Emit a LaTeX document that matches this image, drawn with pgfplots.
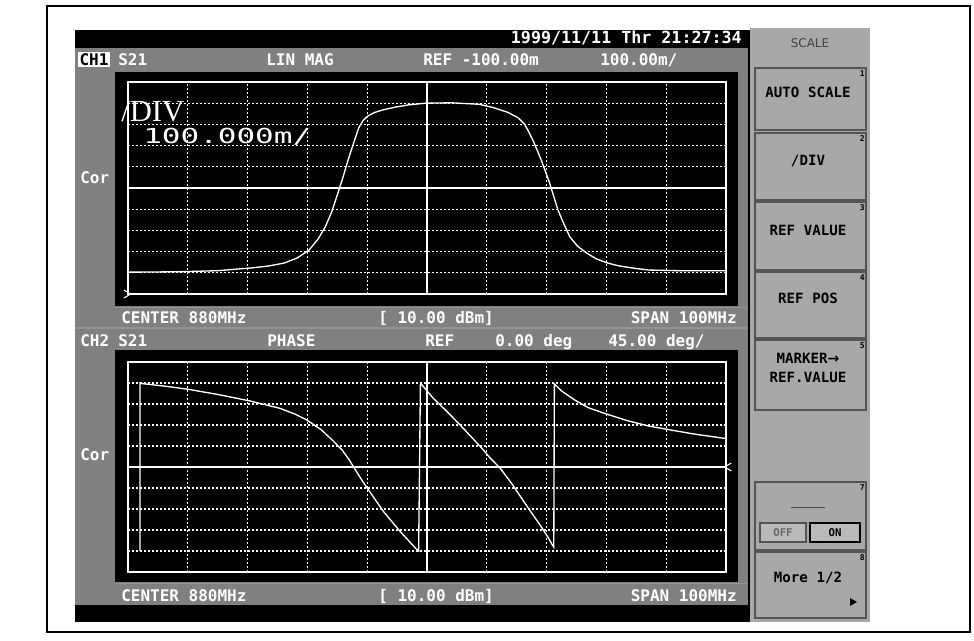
\documentclass[border=0pt]{standalone}
\usepackage{pgfplots}
\pgfplotsset{compat=1.18}
\usepackage{graphicx}
\usepackage{fontspec}
\setmainfont{Liberation Serif}
\newfontfamily\mono{DejaVu Sans Mono}
\newfontfamily\sanss{DejaVu Sans}
\definecolor{bezel}{gray}{0.50}
\definecolor{panel}{gray}{0.66}
\definecolor{btnline}{gray}{0.33}
\begin{document}
\begin{tikzpicture}
\begin{scope}[x=0.75pt,y=-0.75pt]
\path[use as bounding box] (0,0) rectangle (974,640);
\fill[white] (0,0) rectangle (974,640);
\draw[line width=0.9pt] (47,6) rectangle (970,632);
% screen bezel
\fill[bezel] (75,30) rectangle (750,622);
\fill[black] (75,30) rectangle (750,48);
\fill[black] (75,605) rectangle (750,622);
\fill[black] (115,72) rectangle (738,306);
\fill[black] (115,350) rectangle (738,582);
\draw[gray!85!white, line width=0.8pt] (115,307.5) -- (750,307.5);
\draw[gray!85!white, line width=0.8pt] (75,328) -- (750,328);
\draw[gray!85!white, line width=0.8pt] (115,583.5) -- (750,583.5);
\draw[black, line width=0.8pt] (749,30) -- (749,622);
% softkey panel
\fill[panel] (750,28) rectangle (870,622);
\foreach \a/\b in {68/130,133/200,202/270,272/338,340/410,482/550,552/618}{
  \draw[btnline, line width=0.8pt] (755,\a) rectangle (866,\b);
}
\coordinate (A) at (128,294);
\coordinate (B) at (128,572);
\tikzset{hdr/.style={font=\mono\bfseries\fontsize{12}{12}\selectfont, text=white, inner sep=0pt},
         key/.style={font=\mono\bfseries\fontsize{10.6}{10.6}\selectfont, text=black, inner sep=0pt},
         num/.style={font=\mono\bfseries\fontsize{6}{6}\selectfont, text=black, inner sep=0pt, anchor=base east}}
% top bar
\node[hdr, anchor=base east, font=\mono\bfseries\fontsize{12.5}{12.5}\selectfont] at (742,43) {1999/11/11 Thr 21:27:34};
% channel 1 header
\node[hdr, anchor=base west, fill=white, text=black, inner sep=1pt] at (78,65) {CH1};
\node[hdr, anchor=base west] at (118,65) {S21};
\node[hdr, anchor=base west] at (266,65) {LIN MAG};
\node[hdr, anchor=base west] at (423,65) {REF -100.00m};
\node[hdr, anchor=base west] at (600,65) {100.00m/};
\node[hdr, anchor=base west] at (80,183) {Cor};
% row under upper plot
\node[hdr, anchor=base west] at (121,323) {CENTER 880MHz};
\node[hdr, anchor=base west] at (378,323) {[ 10.00 dBm]};
\node[hdr, anchor=base east] at (737,323) {SPAN 100MHz};
% channel 2 header
\node[hdr, anchor=base west] at (80,346) {CH2};
\node[hdr, anchor=base west] at (118,346) {S21};
\node[hdr, anchor=base west] at (267,346) {PHASE};
\node[hdr, anchor=base west] at (425,346) {REF};
\node[hdr, anchor=base west] at (495,346) {0.00 deg};
\node[hdr, anchor=base west] at (608,346) {45.00 deg/};
\node[hdr, anchor=base west] at (80,460) {Cor};
% bottom row
\node[hdr, anchor=base west] at (121,601) {CENTER 880MHz};
\node[hdr, anchor=base west] at (378,601) {[ 10.00 dBm]};
\node[hdr, anchor=base east] at (737,601) {SPAN 100MHz};
% softkeys
\node[font=\sanss\fontsize{9}{9}\selectfont, text=black!75, anchor=base] at (810,47) {SCALE};
\node[key, anchor=base] at (808,97) {AUTO SCALE};
\node[key, anchor=base] at (808,165) {/DIV};
\node[key, anchor=base] at (808,235) {REF VALUE};
\node[key, anchor=base] at (808,303) {REF POS};
\node[key, anchor=base] at (808,363) {MARKER{\sanss\bfseries →}};
\node[key, anchor=base] at (808,382) {REF.VALUE};
\node[font=\mono\fontsize{7}{7}\selectfont, text=black!70, anchor=base] at (808,505) {\underline{\ \ \ \ \ \ }};
\draw[btnline, line width=0.8pt, fill=panel!80!white] (760,523) rectangle (806,542);
\draw[black, line width=1pt, fill=gray!55] (810,523) rectangle (860,542);
\node[key, font=\mono\bfseries\fontsize{8}{8}\selectfont] at (835,533) {ON};
\node[key, font=\mono\bfseries\fontsize{8}{8}\selectfont, text=black!60] at (783,533) {OFF};
\node[key, anchor=base] at (808,582) {More 1/2};
\fill[black] (850,598) -- (857,602) -- (850,606) -- cycle;
\node[num] at (865,76) {1};
\node[num] at (865,141) {2};
\node[num] at (865,210) {3};
\node[num] at (865,280) {4};
\node[num] at (865,348) {5};
\node[num] at (865,490) {7};
\node[num] at (865,560) {8};
\end{scope}

% ---------- upper plot: S21 LIN MAG ----------
\begin{axis}[
  at={(A)}, anchor=south west, scale only axis,
  width=448.5pt, height=159pt,
  xmin=830, xmax=930, ymin=-0.1, ymax=0.9,
  axis background/.style={fill=black},
  axis line style={white, line width=1pt},
  xtick={840,850,860,870,890,900,910,920},
  ytick={0,0.1,0.2,0.3,0.5,0.6,0.7,0.8},
  extra x ticks={880}, extra y ticks={0.4},
  extra tick style={major grid style={white, solid, line width=1pt}},
  xticklabels={}, yticklabels={},
  extra x tick labels={}, extra y tick labels={},
  major tick length=0pt,
  grid=major,
  major grid style={white, line width=0.9pt, dash pattern=on 1.5pt off 1.5pt},
  clip=false,
]
\addplot[white, line width=1pt] coordinates {
(830.0,0.003) (835,0.004) (840,0.006) (845,0.010) (850.6,0.023) (853.5,0.032)
(856.1,0.046) (858.3,0.070) (860.3,0.108) (861.8,0.160) (863.0,0.217) (864.1,0.290)
(865.1,0.376) (866.0,0.455) (866.8,0.532) (867.7,0.610) (868.6,0.685) (869.3,0.718)
(870.0,0.738) (871.2,0.756) (872.7,0.769) (874.8,0.782) (876.9,0.792) (879.7,0.800)
(884,0.802) (888.7,0.795) (891.0,0.780) (893.5,0.757) (895.2,0.732) (896.3,0.702)
(897.0,0.666) (897.7,0.626) (898.4,0.580) (899.1,0.532) (899.8,0.478) (900.5,0.424)
(901.2,0.360) (901.9,0.296) (902.9,0.230) (903.9,0.169) (905.2,0.125) (906.7,0.093)
(908.3,0.066) (910.2,0.046) (912.2,0.032) (914.3,0.023) (917.1,0.013) (922,0.010) (930,0.010)
};
\draw[white, line width=0.8pt] (axis cs:830,-0.1) ++(-3pt,3pt) -- ++(5pt,-3pt) -- ++(-5pt,-3pt);
\end{axis}

% ---------- lower plot: S21 PHASE ----------
\begin{axis}[
  at={(B)}, anchor=south west, scale only axis,
  width=448.5pt, height=157.5pt,
  xmin=830, xmax=930, ymin=-225, ymax=225,
  axis background/.style={fill=black},
  axis line style={white, line width=1pt},
  xtick={840,850,860,870,890,900,910,920},
  ytick={-180,-135,-90,-45,45,90,135,180},
  extra x ticks={880}, extra y ticks={0},
  extra tick style={major grid style={white, solid, line width=1pt}},
  xticklabels={}, yticklabels={},
  extra x tick labels={}, extra y tick labels={},
  major tick length=0pt,
  grid=major,
  major grid style={white, line width=0.9pt, dash pattern=on 1.5pt off 1.5pt},
  clip=false,
]
\addplot[white, line width=1pt] coordinates {
(832.0,-180) (832.0,180) (832.2,179) (836,173.5) (840.1,166.5) (845,155.5) (850.2,142.1)
(855.4,125.8) (858,113) (859.9,100.7) (862.3,80) (864.3,56) (865.8,36.4) (866.9,17)
(869.3,-32) (872.7,-95) (875.5,-138) (878.3,-177) (878.6,-180)
(878.9,180) (881,148) (883.8,113) (886.5,77) (889.4,37) (890.5,20) (892.2,-2)
(894.2,-36) (896.3,-76) (897.8,-104) (899.1,-127.9) (900.2,-150) (901.2,-172)
(901.3,178) (902.5,163) (904.7,143.6) (907,127) (909.9,114) (913.6,99) (917,88)
(921.1,78.5) (925,70) (929.7,61.5) (930,61)
};
\draw[white, line width=0.8pt] (axis cs:930,0) ++(4pt,3pt) -- ++(-5pt,-3pt) -- ++(5pt,-3pt);
\end{axis}

% ---------- annotations drawn above the plots ----------
\begin{scope}[x=0.75pt,y=-0.75pt]
\node[font=\fontsize{23}{23}\selectfont, text=white, inner sep=0pt, anchor=base west] at (121,121) {/DIV};
\node[font=\mono\fontsize{15.5}{15.5}\selectfont, text=white, inner sep=0pt, anchor=base west] at (143,143) {\scalebox{1.5}[1]{100.000m/}};
\end{scope}
\end{tikzpicture}
\end{document}
